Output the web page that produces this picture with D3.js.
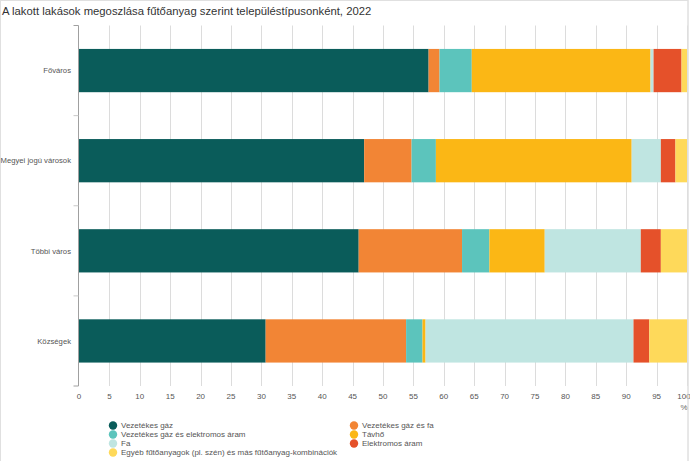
<!DOCTYPE html>
<html><head><meta charset="utf-8">
<script src="https://cdn.jsdelivr.net/npm/d3@7/dist/d3.min.js"></script>
<style>body{margin:0;background:#fff;}svg{display:block;font-family:"Liberation Sans",Arial,sans-serif;}</style>
</head><body>
<svg id="c" width="690" height="461"></svg>
<script>
const categories = ["Főváros", "Megyei jogú városok", "Többi város", "Községek"];
const seriesNames = ["Vezetékes gáz", "Vezetékes gáz és fa", "Vezetékes gáz és elektromos áram", "Távhő", "Fa", "Elektromos áram", "Egyéb fűtőanyagok (pl. szén) és más fűtőanyag-kombinációk"];
const gaz      = [57.5, 46.9, 46.0, 30.7];
const gazFa    = [1.8, 7.8, 17.0, 23.1];
const gazElek  = [5.3, 4.0, 4.5, 2.7];
const tavho    = [29.4, 32.2, 9.1, 0.5];
const fa       = [0.5, 4.8, 15.8, 34.2];
const elek     = [4.6, 2.4, 3.3, 2.6];
const egyeb    = [0.9, 1.9, 4.3, 6.2];
const xTicks = [0,5,10,15,20,25,30,35,40,45,50,55,60,65,70,75,80,85,90,95,100];
const title = "A lakott lakások megoszlása fűtőanyag szerint településtípusonként, 2022";
const colors = ["#0a5c5a", "#f28535", "#5cc4bc", "#fbb715", "#bfe5e1", "#e5512a", "#fed95a"];

const seriesVals = [gaz, gazFa, gazElek, tavho, fa, elek, egyeb];
const rows = categories.map((c, i) => {
  const o = {cat: c};
  seriesNames.forEach((s, j) => o[s] = seriesVals[j][i]);
  return o;
});
const stacked = d3.stack().keys(seriesNames)(rows);

const svg = d3.select("#c");
const FS = 8;
// frame
svg.append("rect").attr("x", 0.5).attr("y", 0.5).attr("width", 687.5).attr("height", 470)
  .attr("fill", "none").attr("stroke", "#e0e0e0");
svg.append("text").attr("x", 2).attr("y", 15).attr("font-size", 11.3).attr("fill", "#333").text(title);

const L = 79, R = 687, T = 25.5, B = 386;
const x = d3.scaleLinear().domain([0, 100]).range([L, R]);
const y = d3.scaleBand().domain(categories).range([T, B]).paddingInner(0.52).paddingOuter(0.26);

// gridlines
svg.append("g").selectAll("line").data(xTicks.slice(1)).join("line")
  .attr("x1", d => Math.round(x(d)) + 0.5).attr("x2", d => Math.round(x(d)) + 0.5)
  .attr("y1", T).attr("y2", B).attr("stroke", "#dcdcdc").attr("stroke-width", 1);

// bars
svg.append("g").selectAll("g").data(stacked).join("g")
  .attr("fill", (d, i) => colors[i])
  .selectAll("rect").data(d => d).join("rect")
  .attr("x", d => x(d[0])).attr("width", d => Math.max(0, x(d[1]) - x(d[0])))
  .attr("y", d => y(d.data.cat)).attr("height", y.bandwidth());

// y axis line with outer ticks
const ax = Math.round(x(0)) - 0.5;
svg.append("path").attr("d", `M${ax-5},${T}H${ax}V${B}H${ax-5}`).attr("fill", "none").attr("stroke", "#a0a0a0");
// category boundary ticks
svg.append("g").selectAll("line").data(categories.slice(1)).join("line")
  .attr("x1", ax - 5).attr("x2", ax).attr("y1", d => y(d) - y.step() * 0.26).attr("y2", d => y(d) - y.step() * 0.26)
  .attr("stroke", "#c8c8c8");
// category labels
svg.append("g").selectAll("text").data(categories).join("text")
  .attr("x", 71).attr("y", d => y(d) + y.bandwidth() / 2).attr("dy", "0.35em")
  .attr("text-anchor", "end").attr("font-size", 7.7).attr("fill", "#555").text(d => d);

// x tick labels
svg.append("g").selectAll("text").data(xTicks).join("text")
  .attr("x", d => x(d) - (d === 100 ? 3 : 0)).attr("y", 398.5).attr("text-anchor", "middle")
  .attr("font-size", FS).attr("fill", "#555").text(d => d);
svg.append("text").attr("x", 684).attr("y", 410).attr("text-anchor", "middle")
  .attr("font-size", FS).attr("fill", "#666").text("%");
// right frame edge over the 100 label
svg.append("line").attr("x1", 688).attr("x2", 688).attr("y1", 0).attr("y2", 461).attr("stroke", "#e0e0e0");

// legend
const leg = svg.append("g").selectAll("g").data(seriesNames).join("g")
  .attr("transform", (d, i) => `translate(${i % 2 === 0 ? 113 : 354},${425.5 + Math.floor(i / 2) * 9})`);
leg.append("circle").attr("r", 4.2).attr("fill", (d, i) => colors[i]);
leg.append("text").attr("x", 8).attr("dy", "0.35em").attr("font-size", FS).attr("fill", "#555").text(d => d);
</script>
</body></html>
